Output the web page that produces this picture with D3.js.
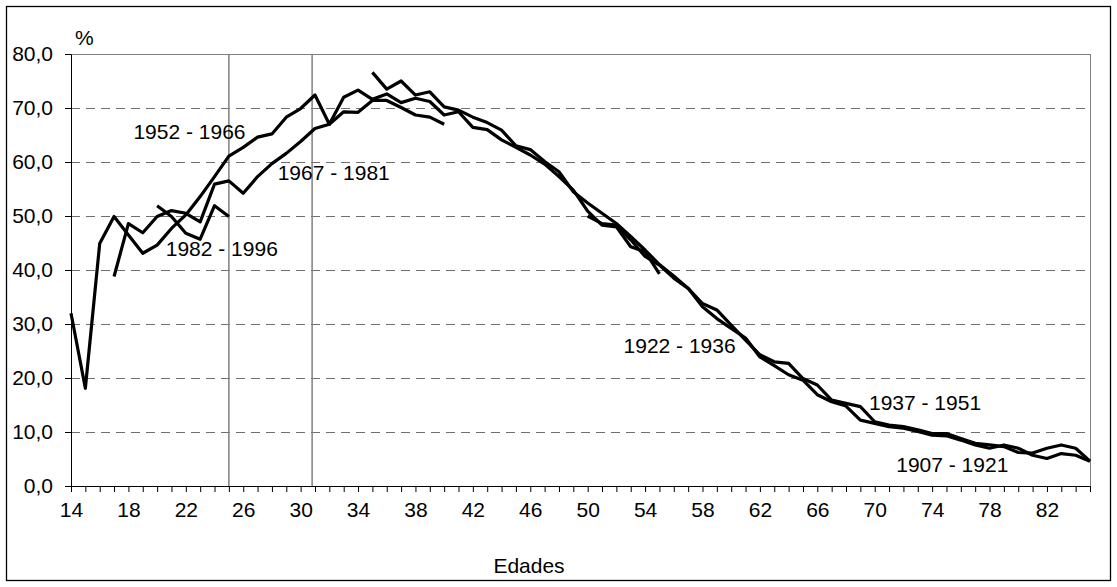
<!DOCTYPE html>
<html>
<head>
<meta charset="utf-8">
<script src="https://cdn.jsdelivr.net/npm/d3@7"></script>
<style>
  body { margin: 0; background: #fff; }
  svg text { font-family: "Liberation Sans", Arial, sans-serif; fill: #000; }
</style>
</head>
<body>
<div class="chart"></div>
<script>
// ages on the category axis
const ages = d3.range(14, 86);
const xLabels = [14, 18, 22, 26, 30, 34, 38, 42, 46, 50, 54, 58, 62, 66, 70, 74, 78, 82];
const yTicks = [0, 10, 20, 30, 40, 50, 60, 70, 80];
const markerAges = [25, 30.8];

// each line: first age + values
const lineA = { start: 14, values: [32.0, 18.1, 44.9, 49.9, 46.5, 43.1, 44.6, 47.7, 50.2, 53.6, 57.3, 61.1, 62.7, 64.6, 65.2, 68.3, 69.9, 72.4, 67.0, 72.0, 73.3, 71.6, 72.6, 71.0, 71.8, 71.2, 68.7, 69.3, 66.4, 66.0, 64.1, 62.7, 61.3, 59.6, 57.3, 54.8, 50.9, 48.3, 48.0, 44.3, 43.4, 39.3] };
const lineB = { start: 17, values: [38.8, 48.6, 46.9, 49.9, 51.0, 50.5, 48.9, 55.9, 56.5, 54.2, 57.3, 59.7, 61.6, 63.8, 66.2, 67.0, 69.3, 69.2, 71.4, 71.4, 70.1, 68.7, 68.3, 67.0] };
const lineC = { start: 20, values: [51.9, 49.9, 46.8, 45.7, 51.9, 49.9] };
const lineD = { start: 35, values: [76.6, 73.5, 75.0, 72.4, 73.0, 70.2, 69.6, 68.3, 67.3, 65.9, 63.0, 62.3, 60.1, 58.2, 54.5, 52.4, 50.5, 48.6, 46.2, 43.7, 41.0, 38.9, 36.6, 33.8, 32.6, 29.8, 27.0, 24.3, 23.0, 22.7, 19.9, 18.7, 15.9, 15.3, 14.7, 11.9, 11.3, 11.0, 10.4, 9.7, 9.7, 8.8, 7.9, 7.6, 7.3, 6.2, 6.1, 7.0, 7.6, 7.0, 4.6] };
const lineE = { start: 50, values: [50.0, 48.6, 48.3, 45.6, 42.5, 40.9, 38.5, 36.6, 33.2, 31.0, 29.2, 27.4, 23.9, 22.3, 20.6, 19.6, 16.9, 15.6, 14.8, 12.2, 11.6, 11.0, 10.7, 10.1, 9.4, 9.3, 8.5, 7.6, 7.0, 7.6, 7.0, 5.7, 5.1, 6.0, 5.7, 4.6] };

const cohortLabels = [
  { text: "1952 - 1966", age: 18.35, value: 64.2 },
  { text: "1967 - 1981", age: 28.4, value: 56.6 },
  { text: "1982 - 1996", age: 20.6, value: 42.6 },
  { text: "1922 - 1936", age: 52.5, value: 24.6 },
  { text: "1937 - 1951", age: 69.6, value: 14.1 },
  { text: "1907 - 1921", age: 71.5, value: 2.6 }
];

const w = 1117, h = 587;
const plotLeft = 71, plotRight = 1090, plotTop = 54, plotBottom = 486;

const x = d3.scaleLinear().domain([14, 85]).range([plotLeft, plotRight]);
const y = d3.scaleLinear().domain([0, 80]).range([plotBottom, plotTop]);

const svg = d3.select(".chart").append("svg")
  .attr("width", w).attr("height", h);

// outer frame
svg.append("rect")
  .attr("x", 6.5).attr("y", 6.5)
  .attr("width", w - 13).attr("height", h - 13)
  .attr("fill", "none").attr("stroke", "#000").attr("stroke-width", 1.3);

// dashed gridlines
svg.append("g")
  .selectAll("line")
  .data(yTicks.filter((d) => d > 0 && d < 80))
  .enter().append("line")
  .attr("x1", plotLeft).attr("x2", plotRight)
  .attr("y1", (d) => y(d) + 0.5).attr("y2", (d) => y(d) + 0.5)
  .attr("stroke", "#707070").attr("stroke-width", 1)
  .attr("stroke-dasharray", "9,6");

// plot area border
svg.append("rect")
  .attr("x", plotLeft + 0.5).attr("y", y(80) + 0.5)
  .attr("width", plotRight - plotLeft).attr("height", y(0) - y(80))
  .attr("fill", "none").attr("stroke", "#808080").attr("stroke-width", 1);

// vertical marker lines
svg.append("g")
  .selectAll("line")
  .data(markerAges)
  .enter().append("line")
  .attr("x1", (d) => x(d)).attr("x2", (d) => x(d))
  .attr("y1", y(80)).attr("y2", y(0))
  .attr("stroke", "#808080").attr("stroke-width", 1.5);

// axes
const xAxis = d3.axisBottom(x)
  .tickValues(ages)
  .tickSize(6)
  .tickPadding(10)
  .tickFormat((d) => (xLabels.includes(d) ? d : ""));

const yAxis = d3.axisLeft(y)
  .tickValues(yTicks)
  .tickSize(6)
  .tickPadding(12)
  .tickFormat((d) => d3.format(".1f")(d).replace(".", ","));

const gx = svg.append("g")
  .attr("transform", "translate(0," + plotBottom + ")")
  .call(xAxis);
const gy = svg.append("g")
  .attr("transform", "translate(" + plotLeft + ",0)")
  .call(yAxis);

[gx, gy].forEach((g) => {
  g.select(".domain").attr("stroke", "#000");
  g.selectAll(".tick line").attr("stroke", "#000");
  g.selectAll(".tick text")
    .style("font-family", "'Liberation Sans', Arial, sans-serif")
    .style("font-size", "21px");
});

// cohort lines
const line = d3.line()
  .x((d) => x(d.age))
  .y((d) => y(d.value));

[lineA, lineB, lineC, lineD, lineE].forEach((s) => {
  const pts = s.values.map((v, i) => ({ age: s.start + i, value: v }));
  svg.append("path")
    .datum(pts)
    .attr("d", line)
    .attr("fill", "none")
    .attr("stroke", "#000")
    .attr("stroke-width", 3.2)
    .attr("stroke-linejoin", "round");
});

// cohort labels
svg.append("g")
  .selectAll("text")
  .data(cohortLabels)
  .enter().append("text")
  .attr("x", (d) => x(d.age))
  .attr("y", (d) => y(d.value))
  .style("font-size", "21px")
  .text((d) => d.text);

// unit and axis title
svg.append("text")
  .attr("x", 75).attr("y", 45)
  .style("font-size", "21px")
  .text("%");

svg.append("text")
  .attr("x", 529).attr("y", 573)
  .attr("text-anchor", "middle")
  .style("font-size", "21px")
  .text("Edades");
</script>
</body>
</html>
